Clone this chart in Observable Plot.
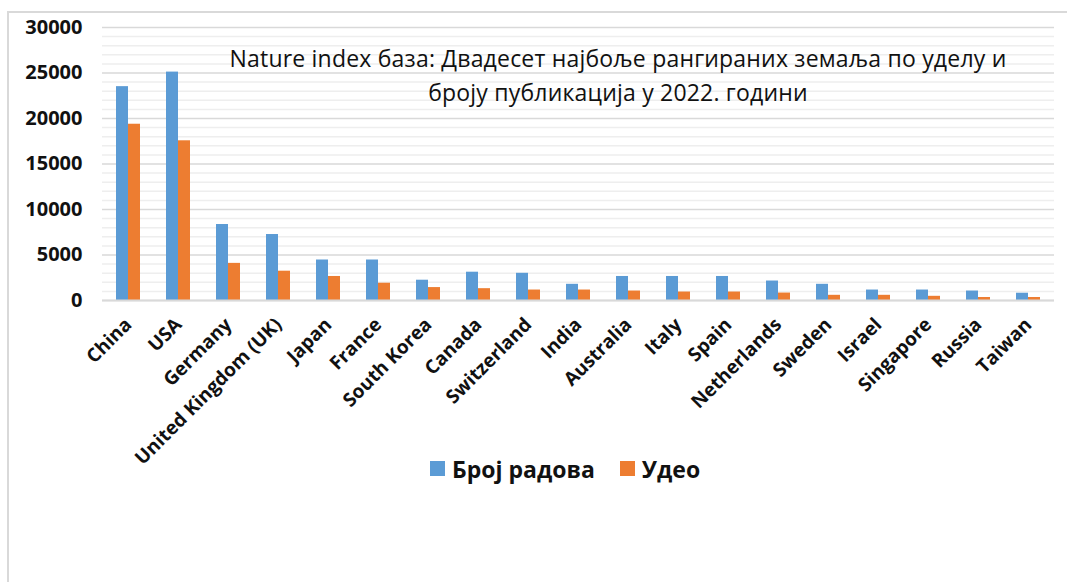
<!DOCTYPE html>
<html>
<head>
<meta charset="utf-8">
<script src="https://cdn.jsdelivr.net/npm/d3@7"></script>
<script src="https://cdn.jsdelivr.net/npm/@observablehq/plot@0.6"></script>
<style>
  html, body { margin: 0; padding: 0; background: #fff; }
  #wrap { position: relative; width: 1067px; height: 582px; overflow: hidden; background: #fff; }
  #frame { position: absolute; left: 7px; top: 11px; width: 1100px; height: 700px; border: 2px solid #d9d9d9; box-sizing: border-box; pointer-events: none; }
  #chart { position: absolute; left: 0; top: 0; }
  #title { position: absolute; left: 118px; width: 1000px; top: 41px; text-align: center;
           font-family: "Open Sans", sans-serif; font-size: 23px; line-height: 34px; color: #111; letter-spacing: 0.2px; }
  #legend { position: absolute; left: 430px; top: 452px; display: flex; justify-content: flex-start; }
  .lg-swatches { font-family: "Open Sans", sans-serif !important; font-size: 23px !important; font-weight: 700; color: #111; margin: 0 !important; }
  .lg-swatch { margin-right: 25px !important; }
  .lg-swatch > svg { margin-right: 7px !important; }
</style>
</head>
<body>
<div id="wrap">
  <div id="chart"></div>
  <div id="title">Nature index база: Двадесет најбоље рангираних земаља по уделу и<br>броју публикација у 2022. години</div>
  <div id="legend"></div>
  <div id="frame"></div>
</div>
<script>
const countries = ["China","USA","Germany","United Kingdom (UK)","Japan","France","South Korea","Canada","Switzerland","India","Australia","Italy","Spain","Netherlands","Sweden","Israel","Singapore","Russia","Taiwan"];
const countValues = [23500, 25100, 8350, 7250, 4450, 4450, 2230, 3110, 2990, 1780, 2640, 2640, 2640, 2140, 1780, 1150, 1150, 1040, 800];
const shareValues = [19370, 17550, 4080, 3220, 2640, 1900, 1420, 1300, 1150, 1150, 1040, 930, 930, 820, 570, 570, 460, 330, 330];
const seriesNames = ["Број радова", "Удео"];
const seriesColors = ["#5b9bd5", "#ed7d31"];
const yTicks = [0, 5000, 10000, 15000, 20000, 25000, 30000];
const yMinorTicks = d3.range(0, 30001, 1000).filter(v => v % 5000 !== 0);

const countData = countries.map((c, i) => ({country: c, value: countValues[i]}));
const shareData = countries.map((c, i) => ({country: c, value: shareValues[i]}));

const chart = Plot.plot({
  width: 1067,
  height: 500,
  marginLeft: 102,
  marginRight: 13,
  marginTop: 27,
  marginBottom: 200,
  style: {fontFamily: "Open Sans, sans-serif", fontWeight: "700", fontSize: "19px", color: "#111", background: "transparent"},
  x: {domain: countries, paddingInner: 0.52, paddingOuter: 0.26, label: null, tickSize: 0, tickPadding: 21, tickRotate: -45},
  y: {domain: [0, 30000], ticks: yTicks, label: null, tickSize: 0, tickPadding: 20, tickFormat: d => String(d)},
  marks: [
    Plot.ruleY(yMinorTicks, {stroke: "#eeeeee", strokeWidth: 1.5}),
    Plot.ruleY(yTicks, {stroke: "#d9d9d9", strokeWidth: 1.5}),
    Plot.barY(countData, {x: "country", y: "value", fill: seriesColors[0], insetLeft: 0, insetRight: 12}),
    Plot.barY(shareData, {x: "country", y: "value", fill: seriesColors[1], insetLeft: 12, insetRight: 0}),
    Plot.ruleY([0], {stroke: "#d9d9d9", strokeWidth: 2})
  ]
});
chart.querySelectorAll("g[aria-label='y-axis tick label']").forEach(g => g.setAttribute("font-size", "20px"));
document.getElementById("chart").appendChild(chart);

const legend = Plot.legend({
  color: {domain: seriesNames, range: seriesColors, type: "ordinal"},
  legend: "swatches",
  swatchSize: 15,
  className: "lg"
});
document.getElementById("legend").appendChild(legend);
</script>
</body>
</html>
